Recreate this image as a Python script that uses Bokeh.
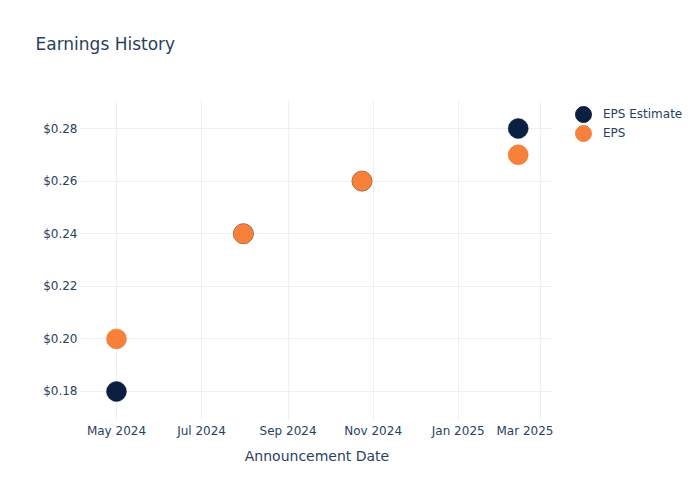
import pandas as pd
from bokeh.plotting import figure
from bokeh.layouts import row
from bokeh.models import (ColumnDataSource, Range1d, FixedTicker, NumeralTickFormatter,
                          Legend, LegendItem, Title)
from bokeh.embed import file_html
from bokeh.resources import INLINE

# ---- data ----
dates = ["2024-05-01", "2024-07-31", "2024-10-24", "2025-02-13"]
eps_estimate = [0.18, 0.24, 0.26, 0.28]
eps_actual = [0.20, 0.24, 0.26, 0.27]
x_tick_dates = ["2024-05-01", "2024-07-01", "2024-09-01", "2024-11-01", "2025-01-01", "2025-03-01"]
x_tick_labels = ["May 2024", "Jul 2024", "Sep 2024", "Nov 2024", "Jan 2025", "Mar 2025"]
y_ticks = [0.18, 0.20, 0.22, 0.24, 0.26, 0.28]
series_names = ["EPS Estimate", "EPS"]
chart_title = "Earnings History"

TEXT = "#2a3f5f"
GRID = "#EBF0F8"
NAVY = "#0b1f41"
ORANGE = "#f7803a"
FONT = "DejaVu Sans"

src = ColumnDataSource(dict(date=pd.to_datetime(dates), est=eps_estimate, eps=eps_actual))

p = figure(width=553, height=500, x_axis_type="datetime", output_backend="svg",
           toolbar_location=None, title=None,
           x_range=Range1d(pd.Timestamp("2024-04-05 05:00"), pd.Timestamp("2025-03-10 07:00")),
           y_range=Range1d(0.16897, 0.29065),
           min_border_left=80, min_border_right=0, min_border_top=100, min_border_bottom=80)

# spacer (closest to the frame) then the real title above it
p.add_layout(Title(text=" ", text_font=FONT, text_font_size="17px", standoff=0), "above")
p.add_layout(Title(text=chart_title, text_font=FONT, text_font_size="17px",
                   text_font_style="normal", text_color=TEXT, align="left",
                   offset=-45, standoff=50), "above")

p.outline_line_color = None
p.background_fill_color = "white"
p.border_fill_color = "white"

r_est = p.scatter(x="date", y="est", source=src, size=20, fill_color=NAVY, line_color=NAVY, line_width=0.5)
r_eps = p.scatter(x="date", y="eps", source=src, size=20, fill_color=ORANGE, line_color="#e87530", line_width=0.5)

tick_ms = [int(pd.Timestamp(d).value // 10**6) for d in x_tick_dates]
p.xaxis.ticker = FixedTicker(ticks=tick_ms)
p.xaxis.major_label_overrides = {t: l for t, l in zip(tick_ms, x_tick_labels)}
p.yaxis.ticker = FixedTicker(ticks=y_ticks)
p.yaxis.formatter = NumeralTickFormatter(format="$0.00")

for ax in (p.xaxis, p.yaxis):
    ax.axis_line_color = None
    ax.major_tick_line_color = None
    ax.minor_tick_line_color = None
    ax.major_tick_out = 0
    ax.major_tick_in = 0
    ax.major_label_text_font = FONT
    ax.major_label_text_font_size = "12px"
    ax.major_label_text_color = TEXT
    ax.major_label_standoff = 3

p.xaxis.axis_label = "Announcement Date"
p.xaxis.axis_label_text_font = FONT
p.xaxis.axis_label_text_font_size = "14px"
p.xaxis.axis_label_text_font_style = "normal"
p.xaxis.axis_label_text_color = TEXT
p.xaxis.axis_label_standoff = 7

p.xgrid.grid_line_color = GRID
p.ygrid.grid_line_color = GRID
p.xgrid.grid_line_width = 1
p.ygrid.grid_line_width = 1

# ---- legend panel (separate figure to the right; its frame aligns with the main frame) ----
lp = figure(width=147, height=500, output_backend="svg", toolbar_location=None,
            x_range=Range1d(0, 1), y_range=Range1d(0, 1),
            x_axis_location=None, y_axis_location=None, min_border=0)
lp.grid.visible = False
lp.outline_line_color = None
lp.background_fill_color = "white"
lp.border_fill_color = "white"
# same data, but far outside this panel's ranges: only their legend swatches show
l_est = lp.scatter(x="date", y="est", source=src, fill_color=NAVY, line_color=NAVY)
l_eps = lp.scatter(x="date", y="eps", source=src, fill_color=ORANGE, line_color=ORANGE)

for r, lbl, yloc in [(l_est, series_names[0], 286), (l_eps, series_names[1], 267)]:
    leg = Legend(items=[LegendItem(label=lbl, renderers=[r])], location=(10, yloc),
                 glyph_width=40, glyph_height=40, label_height=40, label_standoff=0,
                 padding=0, margin=0, spacing=0, border_line_color=None,
                 background_fill_alpha=0, label_text_font=FONT, label_text_font_size="12px",
                 label_text_color=TEXT)
    lp.add_layout(leg)

layout = row(p, lp)
open("out.html", "w").write(file_html(layout, INLINE))
